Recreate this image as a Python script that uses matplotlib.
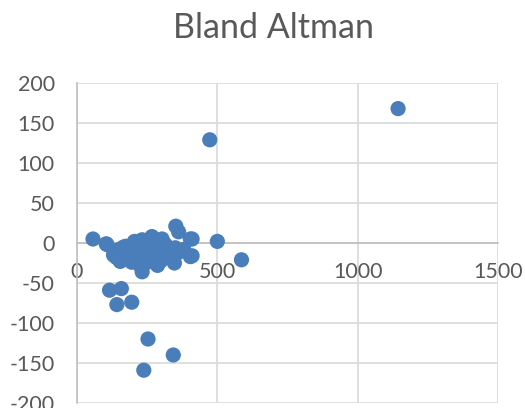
import matplotlib
matplotlib.use("Agg")
import matplotlib.pyplot as plt

# Mean of the two measurements (x) and their difference (y)
mean_vals = [1144, 473, 500, 586, 57, 104, 404, 404, 352, 362,
             116, 158, 142, 195, 253, 343, 238,
             107, 166, 130, 154, 232, 267, 303, 232, 287, 347, 410, 410,
             140, 150, 160, 170, 180, 190, 200, 210, 220, 240, 250, 260,
             270, 280, 290, 300, 310, 320, 330, 340, 360, 380, 245, 265,
             225, 195, 175, 205, 275, 315, 350, 300, 255, 235]
diff_vals = [168, 129, 2, -21, 5, -1, 5, -17, 21, 14,
             -59, -57, -77, -74, -120, -140, -159,
             -2, -5, -15, -23, 4, 8, 5, -36, -28, -25, 5, -16,
             -18, -8, -14, -20, -12, -6, -16, -22, -10, -14, -20, -8,
             -4, -16, -12, -6, -18, -10, -14, -20, -12, -8, -25, -15,
             -28, -24, -4, 2, -10, -2, -6, -22, 0, -6]

x_ticks = [0, 500, 1000, 1500]
y_ticks = [-200, -150, -100, -50, 0, 50, 100, 150, 200]
title = "Bland Altman"

plt.rcParams['font.family'] = ['Lato', 'DejaVu Sans']
plt.rcParams['axes.unicode_minus'] = False
text_color = '#595959'

fig = plt.figure(figsize=(5.25, 4.08), dpi=100)
ax = fig.add_axes([77/525, 1 - 403/408, (498 - 77)/525, (403 - 83)/408])

ax.scatter(mean_vals, diff_vals, s=120, color='#4a7ebb', edgecolors='none', zorder=3, clip_on=False)

ax.set_xlim(0, 1500)
ax.set_ylim(-200, 200)
ax.set_xticks(x_ticks)
ax.set_yticks(y_ticks)
ax.grid(True, color='#d9d9d9', linewidth=1.2, zorder=0)
ax.set_axisbelow(True)

for s in ['top', 'right']:
    ax.spines[s].set_visible(False)
ax.spines['left'].set_color('#bfbfbf')
ax.spines['left'].set_linewidth(1.2)
ax.spines['bottom'].set_position(('data', 0))
ax.spines['bottom'].set_color('#bfbfbf')
ax.spines['bottom'].set_linewidth(1.2)
ax.spines['bottom'].set_zorder(1)
ax.spines['left'].set_zorder(1)

ax.tick_params(axis='both', length=0, labelsize=15.5, labelcolor=text_color)
ax.tick_params(axis='y', pad=16)
ax.tick_params(axis='x', pad=14)

fig.text(273.5 / 525, 1 - 28/408, title, ha='center', va='center', fontsize=24.5, color=text_color)

fig.savefig("out.png", dpi=100)
